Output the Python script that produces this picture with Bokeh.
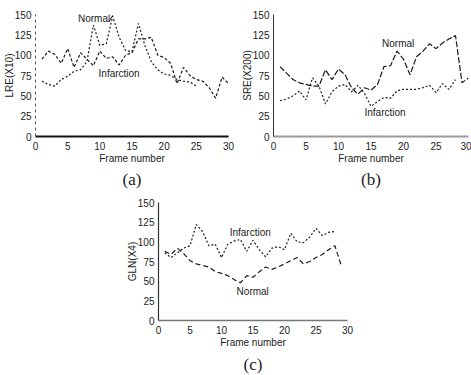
from bokeh.plotting import figure
from bokeh.layouts import column, row
from bokeh.models import Range1d, Spacer, FixedTicker, Title, ColumnDataSource
from bokeh.core.properties import value
from bokeh.embed import file_html
from bokeh.resources import INLINE

# ---------------- data ----------------
x_ticks = [0, 5, 10, 15, 20, 25, 30]
y_ticks = [0, 25, 50, 75, 100, 125, 150]

# (a) LRE(X10)
lre_normal_x = list(range(1, 26))
lre_normal = [68, 64, 62, 70, 74, 80, 82, 92, 137, 112, 114, 148, 122, 106, 104,
              139, 112, 92, 82, 77, 75, 70, 68, 67, 62]
lre_infarct_x = list(range(1, 31))
lre_infarct = [95, 105, 101, 90, 108, 85, 103, 95, 87, 105, 96, 98, 88, 100, 103,
               120, 120, 122, 100, 97, 90, 65, 85, 75, 70, 68, 60, 47, 73, 65]

# (b) SRE(X200)
sre_normal_x = list(range(1, 31))
sre_normal = [86, 78, 70, 66, 64, 62, 62, 82, 70, 83, 76, 60, 52, 60, 57,
              64, 86, 87, 105, 95, 76, 98, 105, 114, 108, 115, 120, 124, 66, 72]
sre_infarct_x = list(range(1, 29))
sre_infarct = [44, 46, 50, 56, 45, 72, 62, 40, 55, 62, 64, 55, 63, 53, 37,
               43, 48, 47, 56, 58, 58, 58, 60, 63, 54, 65, 58, 70]

# (c) GLN(X4)
gln_normal_x = list(range(1, 30))
gln_normal = [88, 84, 92, 85, 76, 72, 70, 68, 62, 60, 57, 52, 48, 57, 55,
              62, 68, 65, 68, 72, 76, 80, 72, 75, 80, 84, 90, 95, 70]
gln_infarct_x = list(range(1, 29))
gln_infarct = [86, 80, 86, 92, 95, 122, 113, 95, 97, 80, 97, 101, 103, 88, 102,
               90, 81, 92, 94, 90, 111, 100, 99, 106, 117, 108, 112, 113]

series_names = ["Normal", "Infarction"]

# ---------------- styling ----------------
SANS = "Liberation Sans"
SERIF = "Liberation Serif"
INK = "#1c1c1c"


def make_panel(ylabel, letter, fw, fh, bl, br, bt, bb, xaxis_style, yaxis_style,
               title_standoff=3):
    p = figure(frame_width=fw, frame_height=fh,
               x_range=Range1d(0, 30), y_range=Range1d(0, 150),
               output_backend="svg", toolbar_location=None,
               min_border_left=bl, min_border_right=br,
               min_border_top=bt, min_border_bottom=bb)
    p.outline_line_color = None
    p.grid.visible = False
    p.background_fill_color = "white"
    p.border_fill_color = "white"
    p.xaxis.ticker = FixedTicker(ticks=x_ticks)
    p.yaxis.ticker = FixedTicker(ticks=y_ticks)
    for ax in (p.xaxis[0], p.yaxis[0]):
        ax.major_tick_line_color = None
        ax.minor_tick_line_color = None
        ax.major_tick_out = 0
        ax.major_tick_in = 0
        ax.minor_tick_out = 0
        ax.minor_tick_in = 0
        ax.major_label_text_font = SANS
        ax.major_label_text_font_size = "10px"
        ax.major_label_text_color = INK
        ax.axis_label_text_font = SANS
        ax.axis_label_text_font_size = "10px"
        ax.axis_label_text_font_style = "normal"
        ax.axis_label_text_color = INK
    p.xaxis.axis_label = "Frame number"
    p.yaxis.axis_label = ylabel
    p.xaxis.major_label_standoff = 5
    p.yaxis.major_label_standoff = 4
    p.xaxis.axis_label_standoff = 0
    p.yaxis.axis_label_standoff = -3
    for k, v in xaxis_style.items():
        setattr(p.xaxis[0], k, v)
    for k, v in yaxis_style.items():
        setattr(p.yaxis[0], k, v)
    t = Title(text=letter, align="center", text_font=SERIF,
              text_font_size="17px", text_font_style="normal",
              text_color=INK, standoff=title_standoff)
    p.add_layout(t, "below")
    return p


def add_labels(p, xs, ys):
    src = ColumnDataSource(dict(x=xs, y=ys, t=series_names))
    p.text(x="x", y="y", text="t", source=src, text_font=value(SANS),
           text_font_size="10px", text_color=INK, text_baseline="middle",
           text_align="left")


# (a)
pa = make_panel("LRE(X10)", "(a)", 193, 122, 35, 7, 14, 56,
                dict(axis_line_width=2, axis_line_color="#111"),
                dict(axis_line_width=1, axis_line_color="#555", axis_line_dash="3 3"))
pa.line(lre_normal_x, lre_normal, line_color=INK, line_width=1.2, line_dash="2 2")
pa.line(lre_infarct_x, lre_infarct, line_color=INK, line_width=1.2, line_dash="3 2")
add_labels(pa, [6.6, 9.8], [145, 77])
pa.segment(x0=[11.4], y0=[141], x1=[12.0], y1=[149], line_color=INK, line_width=1)

# (b)
pb = make_panel("SRE(X200)", "(b)", 195, 122, 38, 3, 14, 56,
                dict(axis_line_width=2, axis_line_color="#999"),
                dict(axis_line_width=1, axis_line_color="#333"))
pb.line(sre_normal_x, sre_normal, line_color=INK, line_width=1.2, line_dash="6 2")
pb.line(sre_infarct_x, sre_infarct, line_color=INK, line_width=1.2, line_dash="2 2")
add_labels(pb, [16.7, 14.0], [114, 30])

# (c)
pc = make_panel("GLN(X4)", "(c)", 189, 118, 38, 10, 10, 55,
                dict(axis_line_width=1.5, axis_line_color="#777"),
                dict(axis_line_width=1.2, axis_line_color="#333"),
                title_standoff=5)
pc.line(gln_normal_x, gln_normal, line_color=INK, line_width=1.2, line_dash="5 3")
pc.line(gln_infarct_x, gln_infarct, line_color=INK, line_width=1.2, line_dash="2 2")
add_labels(pc, [12.4, 11.3], [37, 112])

layout = column(row(pa, pb), row(Spacer(width=120, height=10), pc))

open("out.html", "w").write(file_html(layout, INLINE))
